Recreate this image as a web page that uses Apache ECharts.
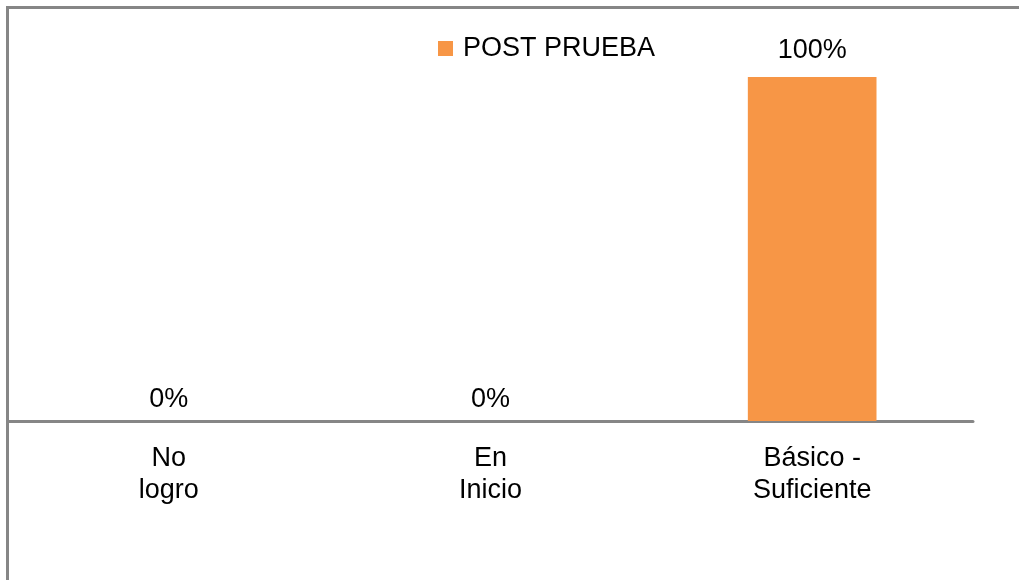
<!DOCTYPE html>
<html>
<head>
<meta charset="utf-8">
<script src="https://cdn.jsdelivr.net/npm/echarts@6/dist/echarts.min.js"></script>
<style>
  html, body { margin: 0; padding: 0; background: #fff; }
  #chart { width: 1019px; height: 580px; }
</style>
</head>
<body>
<div id="chart"></div>
<script>
const categories = ['No\nlogro', 'En\nInicio', 'Básico -\nSuficiente'];
const postPrueba = [0, 0, 100];
const seriesName = 'POST PRUEBA';

const chart = echarts.init(document.getElementById('chart'));
const font = 'Arial, "Liberation Sans", sans-serif';

const option = {
  animation: false,
  backgroundColor: '#fff',
  textStyle: { fontFamily: font },
  graphic: [
    // marco gris (izquierda y arriba)
    { type: 'line', shape: { x1: 7.5, y1: 7.5, x2: 1019, y2: 7.5 }, style: { stroke: '#868686', lineWidth: 3 } },
    { type: 'line', shape: { x1: 7.5, y1: 6, x2: 7.5, y2: 580 }, style: { stroke: '#868686', lineWidth: 3 } }
  ],
  legend: {
    data: [seriesName],
    left: 433,
    top: 30,
    icon: 'rect',
    itemWidth: 15,
    itemHeight: 15,
    selectedMode: false,
    textStyle: {
      color: '#000',
      fontSize: 27,
      fontFamily: font,
      padding: [0, 0, 0, 5]
    }
  },
  grid: {
    left: 8,
    right: 46,
    top: 77,
    bottom: 159,
    containLabel: false
  },
  xAxis: {
    type: 'category',
    data: categories,
    axisLine: { lineStyle: { color: '#868686', width: 3 } },
    axisTick: { show: false },
    axisLabel: {
      color: '#000',
      fontSize: 27,
      lineHeight: 32,
      margin: 22,
      fontFamily: font,
      interval: 0
    }
  },
  yAxis: {
    type: 'value',
    min: 0,
    max: 100,
    show: false,
    splitLine: { show: false }
  },
  series: [
    {
      name: seriesName,
      type: 'bar',
      barWidth: '40%',
      itemStyle: { color: '#F79646' },
      label: {
        show: true,
        position: 'top',
        formatter: '{c}%',
        color: '#000',
        fontSize: 27,
        fontFamily: font
      },
      data: postPrueba.map(v => ({ value: v, label: { distance: v === 0 ? 8 : 13 } }))
    }
  ]
};

chart.setOption(option);
</script>
</body>
</html>
